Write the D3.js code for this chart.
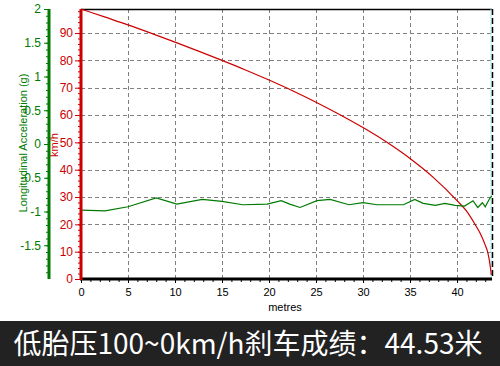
<!DOCTYPE html>
<html><head><meta charset="utf-8">
<script src="https://cdn.jsdelivr.net/npm/d3@7"></script>
<style>body{margin:0;background:#fff}svg{display:block}</style>
</head><body>
<svg id="c" width="500" height="366"></svg>
<script>
const speedDist = [0, 2.5, 5, 7.5, 10, 12.5, 15, 17.5, 20, 22.5, 25, 27.5, 30, 32.5, 35, 37.5, 40, 41, 42, 42.5, 43, 43.3, 43.5, 43.65];
const speedVals = [98.8, 95.9, 93.0, 89.9, 86.7, 83.4, 80.0, 76.5, 72.8, 68.9, 64.7, 60.2, 55.4, 50.1, 44.1, 37.1, 28.7, 24.9, 19.5, 16.5, 12.4, 9.3, 5.5, 1.5];
const accDist = [0, 2.55, 5.0, 8.0, 10.2, 12.9, 15.0, 17.2, 19.8, 21.3, 22.2, 23.3, 25.1, 26.5, 28.5, 30.0, 31.5, 34.3, 35.5, 36.4, 37.7, 38.7, 39.8, 40.8, 41.7, 42.2, 42.7, 43.0, 43.5, 43.7];
const accVals = [-0.98, -0.99, -0.93, -0.80, -0.89, -0.82, -0.85, -0.90, -0.89, -0.84, -0.89, -0.94, -0.84, -0.82, -0.90, -0.87, -0.90, -0.90, -0.82, -0.88, -0.91, -0.88, -0.91, -0.92, -0.84, -0.94, -0.87, -0.93, -0.80, -0.77];
const xTicks = [0, 5, 10, 15, 20, 25, 30, 35, 40];
const speedTicks = [0, 10, 20, 30, 40, 50, 60, 70, 80, 90];
const accTicks = [2, 1.5, 1, 0.5, 0, -0.5, -1, -1.5];
const accTickLabels = ["2", "1.5", "1", "0.5", "0", "-0.5", "-1", "-1.5"];
const xTitle = "metres";
const speedTitle = "km/h";
const accTitle = "Longitudinal Acceleration (g)";
const banner = "低胎压100~0km/h刹车成绩：44.53米";

const svg = d3.select("#c");
const L = 81, R = 492, T = 9, B = 279;
const x = d3.scaleLinear().domain([0, 43.72]).range([L, R]);
const yS = d3.scaleLinear().domain([0, 98.8]).range([B, T]);
const yA = d3.scaleLinear().domain([-2, 2]).range([B, T]);
const font = "Arial, 'Liberation Sans', sans-serif";
const red = "#cc0000", green = "#007a00";

// grid
const g = svg.append("g");
g.selectAll(".hg").data(speedTicks.filter(d => d > 0)).join("line")
  .attr("x1", L).attr("x2", R).attr("y1", d => Math.round(yS(d)) + 0.5).attr("y2", d => Math.round(yS(d)) + 0.5)
  .attr("stroke", "#808080").attr("stroke-dasharray", "4,3");
g.selectAll(".vg").data(xTicks.filter(d => d > 0)).join("line")
  .attr("y1", T).attr("y2", B).attr("x1", d => Math.round(x(d)) + 0.5).attr("x2", d => Math.round(x(d)) + 0.5)
  .attr("stroke", "#808080").attr("stroke-dasharray", "4,3");

// frame top and right
svg.append("line").attr("x1", L).attr("x2", R).attr("y1", T + 0.5).attr("y2", T + 0.5).attr("stroke", "#000").attr("stroke-width", 1.5);
svg.append("line").attr("x1", R - 1).attr("x2", R - 1).attr("y1", T).attr("y2", B).attr("stroke", "#a0f0f0").attr("stroke-width", 1);
svg.append("line").attr("x1", R + 0.5).attr("x2", R + 0.5).attr("y1", T).attr("y2", B).attr("stroke", "#000").attr("stroke-width", 1.5).attr("stroke-dasharray", "6,3");

// curves
svg.append("path").datum(speedDist.map((d, i) => [d, speedVals[i]]))
  .attr("d", d3.line().x(d => x(d[0])).y(d => yS(d[1])).curve(d3.curveMonotoneX))
  .attr("fill", "none").attr("stroke", red).attr("stroke-width", 1.2);
svg.append("path").datum(accDist.map((d, i) => [d, accVals[i]]))
  .attr("d", d3.line().x(d => x(d[0])).y(d => yA(d[1])))
  .attr("fill", "none").attr("stroke", green).attr("stroke-width", 1.2);

// x axis
const xa = svg.append("g").attr("transform", `translate(0,${B})`);
xa.append("g").call(d3.axisBottom(x).tickValues(d3.range(0, 44, 1)).tickSize(3).tickFormat(""))
  .call(s => { s.select(".domain").remove(); s.selectAll("line").attr("stroke", "#000"); });
xa.append("g").call(d3.axisBottom(x).tickValues(xTicks).tickSize(4).tickPadding(5))
  .call(s => { s.select(".domain").remove(); s.selectAll("line").attr("stroke", "#000");
    s.selectAll("text").attr("font-family", font).attr("font-size", 11).attr("fill", "#000"); });
xa.append("line").attr("x1", L - 1).attr("x2", R).attr("y1", 0).attr("y2", 0).attr("stroke", "#000").attr("stroke-width", 3);
svg.append("text").attr("x", 285).attr("y", 311).attr("text-anchor", "middle")
  .attr("font-family", font).attr("font-size", 11).attr("fill", "#000").text(xTitle);

// speed axis
const sa = svg.append("g").attr("transform", `translate(${L},0)`);
sa.append("g").call(d3.axisLeft(yS).tickValues(d3.range(0, 99, 2)).tickSize(3).tickFormat(""))
  .call(s => { s.select(".domain").remove(); s.selectAll("line").attr("stroke", red); });
sa.append("g").call(d3.axisLeft(yS).tickValues(speedTicks).tickSize(6).tickPadding(2))
  .call(s => { s.select(".domain").remove(); s.selectAll("line").attr("stroke", red);
    s.selectAll("text").attr("font-family", font).attr("font-size", 12).attr("fill", red); });
sa.append("line").attr("x1", 0).attr("x2", 0).attr("y1", T).attr("y2", B + 1).attr("stroke", red).attr("stroke-width", 3);
svg.append("text").attr("transform", `translate(58,145) rotate(-90)`).attr("text-anchor", "middle")
  .attr("font-family", font).attr("font-size", 11).attr("fill", red).text(speedTitle);

// acceleration axis
const AX = 49;
const aa = svg.append("g").attr("transform", `translate(${AX},0)`);
aa.append("g").call(d3.axisLeft(yA).tickValues(d3.range(-19, 21, 1).map(d => d / 10)).tickSize(3).tickFormat(""))
  .call(s => { s.select(".domain").remove(); s.selectAll("line").attr("stroke", green); });
aa.append("g").call(d3.axisLeft(yA).tickValues(accTicks).tickSize(5).tickPadding(3).tickFormat((d, i) => accTickLabels[i]))
  .call(s => { s.select(".domain").remove(); s.selectAll("line").attr("stroke", green);
    s.selectAll("text").attr("font-family", font).attr("font-size", 12).attr("fill", green); });
aa.append("line").attr("x1", 0).attr("x2", 0).attr("y1", T).attr("y2", B).attr("stroke", green).attr("stroke-width", 3);
svg.append("text").attr("transform", `translate(27,143) rotate(-90)`).attr("text-anchor", "middle")
  .attr("font-family", font).attr("font-size", 11).attr("fill", green).text(accTitle);

// banner
svg.append("rect").attr("x", 0).attr("y", 321).attr("width", 500).attr("height", 45).attr("fill", "#222");
svg.append("text").attr("x", 248).attr("y", 354).attr("text-anchor", "middle")
  .attr("font-family", "'Noto Sans CJK SC', sans-serif").attr("font-size", 28).attr("fill", "#fff").text(banner);
</script>
</body></html>
